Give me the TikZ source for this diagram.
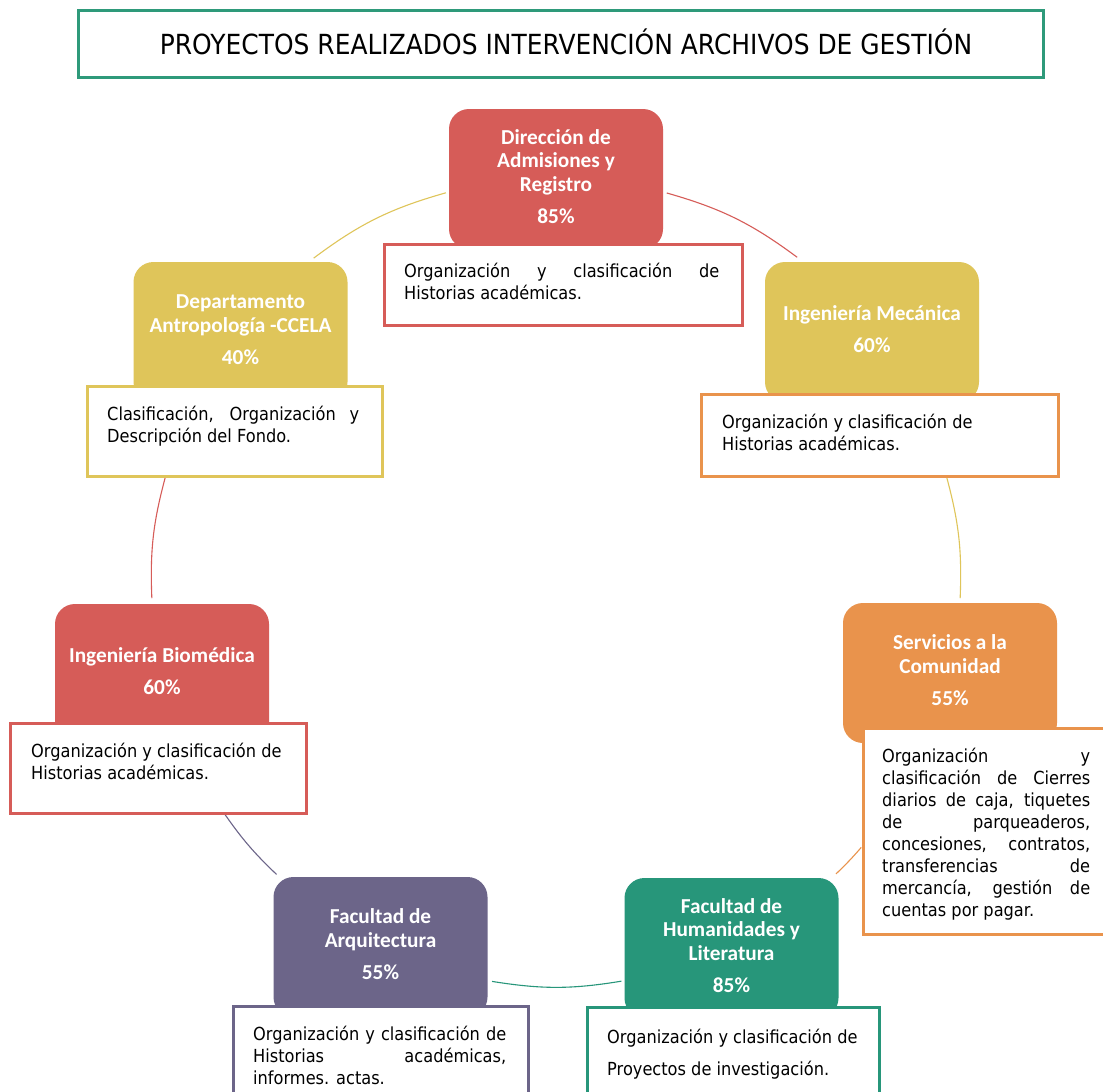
\documentclass[tikz,border=0pt]{standalone}
\usepackage{fontspec}
\setmainfont{DejaVu Sans}[FakeStretch=0.9]
\newfontfamily\labfont{Carlito}
\usetikzlibrary{calc}
\definecolor{cred}{HTML}{D65C58}
\definecolor{cyel}{HTML}{DFC55A}
\definecolor{corg}{HTML}{E9934C}
\definecolor{cgrn}{HTML}{27967A}
\definecolor{cpur}{HTML}{6C6589}
\definecolor{ctit}{HTML}{2E9A7A}
\newcommand\jl[2]{\makebox[#1pt][s]{#2}}
\begin{document}
\begin{tikzpicture}[x=1pt,y=1pt,
  unit/.style={rectangle, rounded corners=20pt, minimum width=214pt, minimum height=140pt, inner sep=0pt, text=white, align=center, font=\labfont\bfseries\fontsize{21.3}{23.5}\selectfont},
  tbox/.style={rectangle, draw, fill=white, line width=2.6pt, inner sep=0pt, anchor=north west},
  ttext/.style={anchor=north west, inner sep=0pt, align=left, font=\fontsize{18}{22}\selectfont},
  link/.style={line width=1.1pt},
]
\useasboundingbox[fill=white] (0,0) rectangle (1103,-1092);

% title
\node[draw=ctit, line width=3pt, minimum width=965pt, minimum height=67pt, inner sep=0pt] (tbox) at (560.5,-43.5) {};
\node[anchor=base, inner sep=0pt, font=\fontsize{27.7}{30}\selectfont] (title) at (566,-54) {PROYECTOS REALIZADOS INTERVENCIÓN ARCHIVOS DE GESTIÓN};

% cycle connectors
\coordinate (O) at (556,-582);
\coordinate (a1) at ($(O)+(126.8:404.5)$);
\coordinate (a2) at ($(O)+(105.8:404.5)$);
\coordinate (b1) at ($(O)+(74.1:404.5)$);
\coordinate (b2) at ($(O)+(53.4:404.5)$);
\coordinate (c1) at ($(O)+(15.2:404.5)$);
\coordinate (c2) at ($(O)+(-2.3:404.5)$);
\coordinate (d1) at ($(O)+(-41:404.5)$);
\coordinate (d2) at ($(O)+(-46.2:404.5)$);
\coordinate (e1) at ($(O)+(-80.7:404.5)$);
\coordinate (e2) at ($(O)+(-99.1:404.5)$);
\coordinate (f1) at ($(O)+(-133.7:404.5)$);
\coordinate (f2) at ($(O)+(-145.25:404.5)$);
\coordinate (g1) at ($(O)+(-177.7:404.5)$);
\coordinate (g2) at ($(O)+(164.8:404.5)$);

\draw[link, cyel] (a1) to[bend left=10.5] (a2);
\draw[link, cred] (b1) to[bend left=10.35] (b2);
\draw[link, cyel] (c1) to[bend left=8.75] (c2);
\draw[link, corg] (d1) to[bend left=2.6] (d2);
\draw[link, cgrn] (e1) to[bend left=9.2] (e2);
\draw[link, cpur] (f1) to[bend left=5.8] (f2);
\draw[link, cred] (g1) to[bend left=8.75] (g2);

% coloured units
\node[unit, fill=cred] (dir) at (556,-179) {\strut Dirección de\\Admisiones y\\Registro\\[8.5pt]85\%\strut};
\node[unit, fill=cyel] (mec) at (872,-332) {\strut Ingeniería Mecánica\\[8.5pt]60\%\strut};
\node[unit, fill=cyel] (dep) at (240.5,-332) {\strut Departamento\\Antropología -CCELA\\[8.5pt]40\%\strut};
\node[unit, fill=cred] (bio) at (162,-674) {\strut Ingeniería Biomédica\\[8.5pt]60\%\strut};
\node[unit, fill=corg] (ser) at (950,-673) {\strut Servicios a la\\Comunidad\\[8.5pt]55\%\strut};
\node[unit, fill=cpur] (arq) at (380.5,-947) {\strut Facultad de\\Arquitectura\\[8.5pt]55\%\strut};
\node[unit, fill=cgrn] (hum) at (731.5,-948) {\strut Facultad de\\Humanidades y\\Literatura\\[8.5pt]85\%\strut};

% description boxes
\node[tbox, draw=cred, minimum width=358pt, minimum height=81pt] (dirB) at (383,-243) {};
\node[ttext] (dirT) at (404,-261.6) {\strut\jl{315}{Organización y clasificación de}\\Historias académicas.};

\node[tbox, draw=corg, minimum width=357pt, minimum height=82pt] (mecB) at (700,-393) {};
\node[ttext] (mecT) at (722,-412.6) {\strut Organización y clasificación de\\Historias académicas.};

\node[tbox, draw=cyel, minimum width=295pt, minimum height=90pt] (depB) at (86,-385) {};
\node[ttext] (depT) at (107,-404.6) {\strut\jl{252}{Clasificación, Organización y}\\Descripción del Fondo.};

\node[tbox, draw=cred, minimum width=296pt, minimum height=90pt] (bioB) at (9,-722) {};
\node[ttext] (bioT) at (31,-741.6) {\strut Organización y clasificación de\\Historias académicas.};

\node[tbox, draw=corg, minimum width=250pt, minimum height=206pt] (serB) at (862,-727) {};
\node[ttext] (serT) at (882,-746.6) {\strut\jl{208}{Organización y}\\\jl{208}{clasificación de Cierres}\\\jl{208}{diarios de caja, tiquetes}\\\jl{208}{de parqueaderos,}\\\jl{208}{concesiones, contratos,}\\\jl{208}{transferencias de}\\\jl{208}{mercancía, gestión de}\\cuentas por pagar.};

\node[tbox, draw=cpur, minimum width=295pt, minimum height=95pt] (arqB) at (232,-1005) {};
\node[ttext] (arqT) at (253,-1024.6) {\strut\jl{253}{Organización y clasificación de}\\\jl{253}{Historias académicas,}\\informes. actas.};

\node[tbox, draw=cgrn, minimum width=292pt, minimum height=95pt] (humB) at (586,-1006) {};
\node[ttext] (humT) at (607,-1027.6) {\strut Organización y clasificación de\\[10pt]Proyectos de investigación.};
\end{tikzpicture}
\end{document}
